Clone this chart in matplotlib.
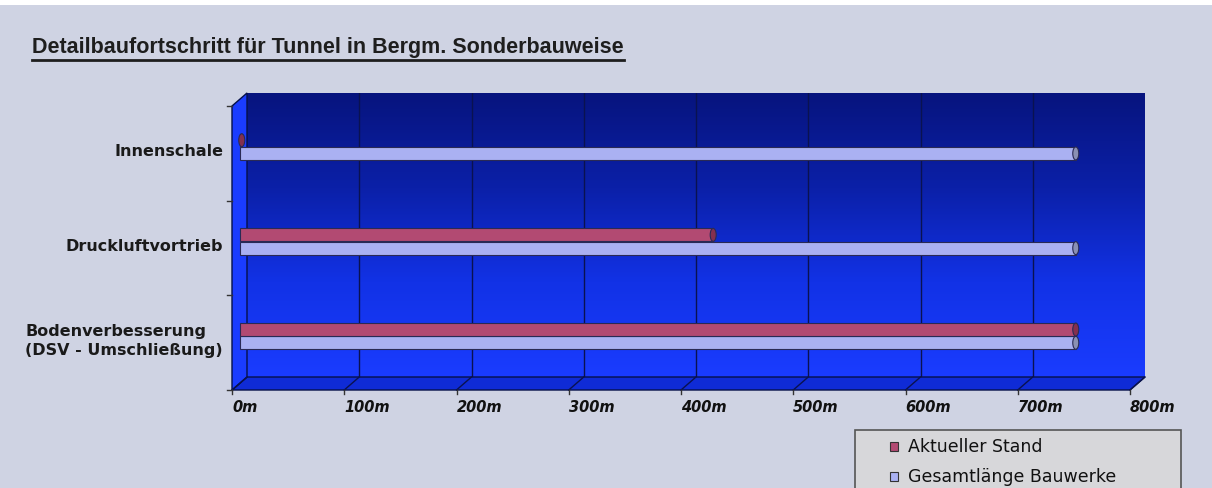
import numpy as np
import matplotlib
matplotlib.use('Agg')
import matplotlib.pyplot as plt
from matplotlib.patches import Polygon, Rectangle, Ellipse
from matplotlib.colors import LinearSegmentedColormap
from matplotlib.transforms import offset_copy, IdentityTransform
from matplotlib.lines import Line2D

# Daten (Meter)
kategorien = ['Bodenverbesserung\n(DSV - Umschließung)', 'Druckluftvortrieb', 'Innenschale']
aktueller_stand = [745, 422, 2]
gesamtlaenge = [745, 745, 745]
x_ticks = [0, 100, 200, 300, 400, 500, 600, 700, 800]
x_labels = ['0m', '100m', '200m', '300m', '400m', '500m', '600m', '700m', '800m']
serien = ['Aktueller Stand', 'Gesamtlänge Bauwerke']
titel = 'Detailbaufortschritt für Tunnel in Bergm. Sonderbauweise'

bg = '#cfd3e3'
pink = '#b24a72'
pink_cap = '#84304f'
lila = '#aab1f2'
lila_cap = '#8a90b4'
gitter = '#0a1250'

W, H = 1212, 488
fig = plt.figure(figsize=(W / 100, H / 100), dpi=100, facecolor=bg)

# weißer Rand oben
fig.add_artist(Rectangle((0, 1 - 5 / H), 1, 5 / H, transform=fig.transFigure,
                         facecolor='white', edgecolor='none'))

# Rückwand
L, R, T, B = 247, 1145, 93, 377
ax = fig.add_axes([L / W, (H - B) / H, (R - L) / W, (B - T) / H])
ax.set_xlim(0, 800)
ax.set_ylim(-0.5, 2.5)
ax.axis('off')

cmap = LinearSegmentedColormap.from_list('wand', ['#1a3cff', '#1232e6', '#0b20a8', '#07147e'])
grad = np.linspace(0, 1, 256).reshape(-1, 1)
ax.imshow(grad, extent=[0, 800, -0.5, 2.5], origin='lower', aspect='auto', cmap=cmap, zorder=0)
for xv in x_ticks[1:-1]:
    ax.plot([xv, xv], [-0.5, 2.5], color=gitter, lw=1, zorder=1)

fig.canvas.draw()
dx, dy = -15, -13
def px(x, y, ox=0, oy=0):
    p = ax.transData.transform((x, y))
    return (p[0] + ox, p[1] + oy)

ident = IdentityTransform()
# Boden
boden = [px(0, -0.5), px(800, -0.5), px(800, -0.5, dx, dy), px(0, -0.5, dx, dy)]
ax.add_patch(Polygon(boden, closed=True, transform=ident, facecolor='#0f2bd6',
                     edgecolor='#05104a', lw=1, zorder=2, clip_on=False))
for xv in x_ticks:
    a = px(xv, -0.5)
    b = px(xv, -0.5, dx, dy)
    ax.add_line(Line2D([a[0], b[0]], [a[1], b[1]], transform=ident, color=gitter, lw=1,
                       zorder=3, clip_on=False))
    ax.add_line(Line2D([b[0], b[0]], [b[1], b[1] - 4], transform=ident, color='#333333', lw=1,
                       zorder=3, clip_on=False))
# Seitenwand
seite = [px(0, -0.5), px(0, 2.5), px(0, 2.5, dx, dy), px(0, -0.5, dx, dy)]
ax.add_patch(Polygon(seite, closed=True, transform=ident, facecolor='#1a3cff',
                     edgecolor='#05104a', lw=1, zorder=2, clip_on=False))
for yv in [-0.5, 0.5, 1.5, 2.5]:
    a = px(0, yv, dx, dy)
    ax.add_line(Line2D([a[0], a[0] - 5], [a[1], a[1]], transform=ident, color='#333333', lw=1,
                       zorder=3, clip_on=False))

# Balken (mittlere Tiefe)
tr = offset_copy(ax.transData, fig=fig, x=dx / 2, y=dy / 2, units='dots')
bh = 0.137
cap_w = 6 * 800 / (R - L)
for i in range(len(kategorien)):
    for wert, off, fc, cc in [(gesamtlaenge[i], -0.07, lila, lila_cap),
                              (aktueller_stand[i], 0.07, pink, pink_cap)]:
        yc = i + off
        ax.add_patch(Rectangle((0, yc - bh / 2), wert, bh, transform=tr, facecolor=fc,
                               edgecolor='#2a2a55', lw=0.8, clip_on=False, zorder=5))
        ax.add_patch(Ellipse((wert, yc), cap_w, bh, transform=tr, facecolor=cc,
                             edgecolor='#2a2a55', lw=0.8, clip_on=False, zorder=6))

# Kategorien
for i, k in enumerate(kategorien):
    a = px(0, i, dx, dy)
    fig.text((a[0] - 9) / W, (a[1] + 2) / H, k, ha='right', va='center', fontsize=11.5,
             fontweight='bold', color='#1a1a1a', linespacing=1.35, multialignment='left')

# X-Achse
for xv, lab in zip(x_ticks, x_labels):
    a = px(xv, -0.5, dx, dy)
    fig.text(a[0] / W, (a[1] - 17) / H, lab, ha='left', va='center', fontsize=10.5,
             fontweight='bold', fontstyle='italic', color='#111111')

# Titel
t = fig.text(32 / W, 1 - 48 / H, titel, ha='left', va='center', fontsize=15.5,
             fontweight='bold', family='Liberation Sans', color='#1e1e1e')
fig.canvas.draw()
bb = t.get_window_extent()
fig.add_artist(Line2D([bb.x0, bb.x1], [H - 60, H - 60], transform=ident, color='#1e1e1e', lw=2))

# Legende
fig.add_artist(Rectangle((855 / W, -0.1), (1181 - 855) / W, 0.1 + (H - 430) / H,
                         transform=fig.transFigure, facecolor='#d7d7da', edgecolor='#555555', lw=1.2))
for yl, lab, fc in [(446, serien[0], pink), (476, serien[1], lila)]:
    fig.add_artist(Rectangle((890 / W, (H - yl - 4.5) / H), 8 / W, 9 / H, transform=fig.transFigure,
                             facecolor=fc, edgecolor='#333333', lw=0.8))
    fig.text(908 / W, (H - yl - 1) / H, lab, ha='left', va='center', fontsize=12.5,
             family='DejaVu Sans', color='#111111')

fig.savefig('out.png', dpi=100, facecolor=bg)
